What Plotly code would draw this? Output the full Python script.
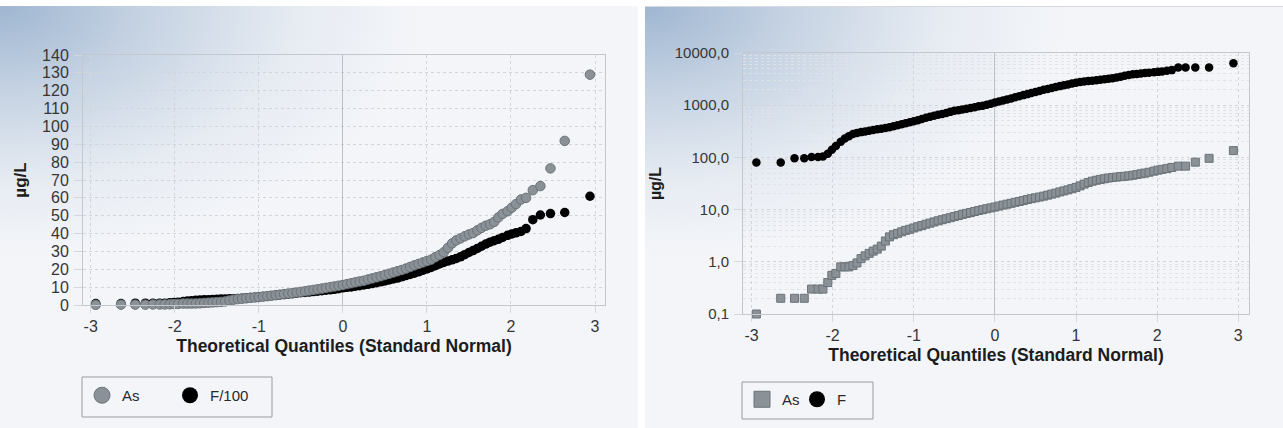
import base64
import plotly.graph_objects as go

# ---------------- data ----------------
quantiles = [-2.94, -2.64, -2.47, -2.35, -2.26, -2.18, -2.12, -2.06, -2.01, -1.96,
             -1.90, -1.85, -1.80, -1.75, -1.70, -1.65, -1.60, -1.55, -1.50, -1.45,
             -1.40, -1.35, -1.30, -1.25, -1.20, -1.15, -1.10, -1.05, -1.00, -0.95,
             -0.90, -0.85, -0.80, -0.75, -0.70, -0.65, -0.60, -0.55, -0.50, -0.45,
             -0.40, -0.35, -0.30, -0.25, -0.20, -0.15, -0.10, -0.05, 0.00, 0.05,
             0.10, 0.15, 0.20, 0.25, 0.30, 0.35, 0.40, 0.45, 0.50, 0.55,
             0.60, 0.65, 0.70, 0.75, 0.80, 0.85, 0.90, 0.95, 1.00, 1.05,
             1.10, 1.15, 1.20, 1.25, 1.30, 1.35, 1.40, 1.45, 1.50, 1.55,
             1.60, 1.65, 1.70, 1.75, 1.80, 1.85, 1.90,
             1.96, 2.01, 2.06, 2.12, 2.18, 2.26, 2.35, 2.47, 2.64, 2.94]

# left panel (linear): As and F/100
left_as = [0.1, 0.2, 0.2, 0.2, 0.3, 0.3, 0.3, 0.4, 0.55, 0.6,
           0.8, 0.8, 0.8, 0.85, 0.95, 1.15, 1.3, 1.45, 1.6, 1.75,
           2.0, 2.5, 3.0, 3.3, 3.5, 3.75, 4.0, 4.2, 4.45, 4.7,
           4.95, 5.25, 5.5, 5.8, 6.1, 6.4, 6.7, 7.0, 7.35, 7.7,
           8.1, 8.45, 8.8, 9.2, 9.6, 10.0, 10.4, 10.8, 11.2, 11.7,
           12.2, 12.7, 13.2, 13.6, 14.3, 14.9, 15.5, 16.1, 16.8, 17.5,
           18.2, 18.9, 19.6, 20.4, 21.3, 22.2, 23.0, 23.8, 24.6, 25.4,
           26.8, 28.0, 29.5, 32.0, 34.5, 36.2, 37.3, 38.5, 39.5, 40.3,
           41.8, 43.2, 44.4, 45.2, 46.5, 49.0, 51.0,
           52.5, 54.5, 56.5, 59.1, 60.0, 64.3, 66.6, 76.5, 91.9, 129.0]

left_f100 = [0.8, 0.8, 1.0, 1.0, 1.0, 1.0, 1.05, 1.2, 1.4, 1.6,
             1.9, 2.2, 2.4, 2.6, 2.8, 2.9, 3.0, 3.1, 3.2, 3.3,
             3.35, 3.45, 3.55, 3.7, 3.85, 4.0, 4.15, 4.3, 4.5, 4.7,
             4.95, 5.2, 5.4, 5.6, 5.85, 6.05, 6.3, 6.6, 6.9, 7.05,
             7.25, 7.5, 7.7, 8.0, 8.3, 8.5, 8.8, 9.1, 9.6, 9.9,
             10.1, 10.5, 10.8, 11.2, 11.6, 12.0, 12.5, 13.0, 13.5, 14.0,
             14.6, 15.1, 15.8, 16.5, 17.1, 17.8, 18.6, 19.4, 20.2, 21.0,
             22.0, 23.0, 23.8, 24.6, 25.3, 26.1, 27.0, 28.2, 29.4, 30.5,
             31.7, 32.9, 34.1, 35.2, 36.0, 36.8, 37.8,
             39.0, 39.8, 40.4, 41.2, 42.8, 47.8, 50.4, 51.2, 51.8, 60.9]

# right panel (log): As and F
right_as = [0.1, 0.2, 0.2, 0.2, 0.3, 0.3, 0.3, 0.4, 0.55, 0.6,
            0.8, 0.8, 0.8, 0.85, 0.95, 1.15, 1.3, 1.45, 1.6, 1.75,
            2.0, 2.5, 3.0, 3.3, 3.5, 3.75, 4.0, 4.2, 4.45, 4.7,
            4.95, 5.25, 5.5, 5.8, 6.1, 6.4, 6.7, 7.0, 7.35, 7.7,
            8.1, 8.45, 8.8, 9.2, 9.6, 10.0, 10.4, 10.8, 11.2, 11.7,
            12.2, 12.7, 13.2, 13.8, 14.3, 14.9, 15.6, 16.2, 16.8, 17.4,
            18.1, 18.9, 19.8, 20.7, 21.8, 22.8, 23.9, 25.2, 26.6, 28.5,
            30.8, 33.0, 35.0, 36.5, 37.8, 39.0, 40.3, 41.2, 42.0, 42.8,
            43.5, 44.3, 45.5, 47.0, 48.5, 50.0, 52.0,
            54.5, 57.0, 59.0, 61.0, 64.0, 68.0, 68.0, 81.0, 96.0, 135.0]

right_f = [80, 80, 96, 96, 102, 102, 104, 118, 140, 165,
           200, 230, 255, 280, 295, 305, 315, 325, 335, 345,
           355, 365, 377, 395, 415, 430, 450, 470, 495, 515,
           545, 575, 600, 625, 655, 680, 710, 745, 780, 800,
           825, 855, 880, 915, 950, 980, 1020, 1070, 1130, 1180,
           1230, 1290, 1350, 1420, 1490, 1560, 1630, 1710, 1790, 1870,
           1970, 2050, 2140, 2230, 2320, 2410, 2500, 2600, 2700, 2780,
           2850, 2900, 2950, 3000, 3060, 3130, 3220, 3300, 3400, 3500,
           3650, 3800, 3900, 3980, 4060, 4140, 4200,
           4280, 4350, 4420, 4550, 4700, 5300, 5300, 5300, 5300, 6350]

x_ticks = [-3, -2, -1, 0, 1, 2, 3]
x_ticktext = ["-3", "-2", "-1", "0", "1", "2", "3"]
left_y_ticks = [0, 10, 20, 30, 40, 50, 60, 70, 80, 90, 100, 110, 120, 130, 140]
right_y_ticks = [0.1, 1, 10, 100, 1000, 10000]
right_y_ticktext = ["0,1", "1,0", "10,0", "100,0", "1000,0", "10000,0"]

# ---------------- styling ----------------
W, H = 1283, 428
FONT = "Liberation Sans"
GRAY = "#8a9197"
GRAY_LINE = "#6b7378"
GRID = "#d2d5d9"


def px(x):
    return x / W


def py(y):
    return 1 - y / H


# background (panels with soft blue corner gradient)
grad_stops = ('<stop offset="0" stop-color="#9fb6d1"/>'
              '<stop offset="0.35" stop-color="#c6d3e3"/>'
              '<stop offset="0.7" stop-color="#e6ebf2"/>'
              '<stop offset="1" stop-color="#f3f5f9"/>')
svg = f'''<svg xmlns="http://www.w3.org/2000/svg" width="{W}" height="{H}" viewBox="0 0 {W} {H}" preserveAspectRatio="none">
<defs>
<radialGradient id="g1" cx="0" cy="0" r="1" gradientUnits="userSpaceOnUse" gradientTransform="translate(0,6) scale(420,250)">{grad_stops}</radialGradient>
<radialGradient id="g2" cx="0" cy="0" r="1" gradientUnits="userSpaceOnUse" gradientTransform="translate(645,6) scale(420,250)">{grad_stops}</radialGradient>
</defs>
<rect x="0" y="0" width="{W}" height="{H}" fill="#ffffff"/>
<rect x="0" y="6" width="638" height="{H-6}" fill="url(#g1)"/>
<rect x="645" y="6" width="{W-645}" height="{H-6}" fill="url(#g2)"/>
<line x1="645" y1="6.5" x2="{W}" y2="6.5" stroke="#d6dae0" stroke-width="1"/>
</svg>'''
bg_uri = "data:image/svg+xml;base64," + base64.b64encode(svg.encode()).decode()

fig = go.Figure()

# ---- left panel traces (F first so As draws on top) ----
fig.add_trace(go.Scatter(x=quantiles, y=left_f100, mode="markers", xaxis="x", yaxis="y",
                         marker=dict(color="#000000", size=9.5, line=dict(width=0)),
                         cliponaxis=False, showlegend=False, hoverinfo="skip"))
fig.add_trace(go.Scatter(x=quantiles, y=left_as, mode="markers", xaxis="x", yaxis="y",
                         marker=dict(color=GRAY, size=9.5, line=dict(color=GRAY_LINE, width=1)),
                         cliponaxis=False, showlegend=False, hoverinfo="skip"))
# ---- right panel traces ----
fig.add_trace(go.Scatter(x=quantiles, y=right_as, mode="markers", xaxis="x2", yaxis="y2",
                         marker=dict(color=GRAY, size=8, symbol="square",
                                     line=dict(color=GRAY_LINE, width=1)),
                         cliponaxis=False, showlegend=False, hoverinfo="skip"))
fig.add_trace(go.Scatter(x=quantiles, y=right_f, mode="markers", xaxis="x2", yaxis="y2",
                         marker=dict(color="#000000", size=8.5, line=dict(width=0)),
                         cliponaxis=False, showlegend=False, hoverinfo="skip"))

# ---- legend entries ----
fig.add_trace(go.Scatter(x=[None], y=[None], mode="markers", name="As", legend="legend",
                         xaxis="x", yaxis="y",
                         marker=dict(color=GRAY, size=16, line=dict(color=GRAY_LINE, width=1))))
fig.add_trace(go.Scatter(x=[None], y=[None], mode="markers", name="F/100", legend="legend",
                         xaxis="x", yaxis="y",
                         marker=dict(color="#000000", size=16, line=dict(width=0))))
fig.add_trace(go.Scatter(x=[None], y=[None], mode="markers", name="As", legend="legend2",
                         xaxis="x2", yaxis="y2",
                         marker=dict(color=GRAY, size=16, symbol="square",
                                     line=dict(color=GRAY_LINE, width=1))))
fig.add_trace(go.Scatter(x=[None], y=[None], mode="markers", name="F", legend="legend2",
                         xaxis="x2", yaxis="y2",
                         marker=dict(color="#000000", size=16, line=dict(width=0))))

tickfont = dict(family=FONT, size=16, color="#363636")
titlefont = dict(family=FONT, size=17.5, color="#1c1c1c", weight="bold")

common_x = dict(tickmode="array", tickvals=x_ticks, ticktext=x_ticktext, tickfont=tickfont,
                showgrid=True, gridcolor=GRID, griddash="dot", gridwidth=1,
                zeroline=True, zerolinecolor="#bdc1c6", zerolinewidth=1,
                showline=True, mirror=True, linecolor="#c3c8ce", linewidth=1,
                ticks="outside", ticklen=7, tickcolor="#d3d6da",
                automargin=False, fixedrange=True)

fig.update_layout(
    width=W, height=H, autosize=False,
    margin=dict(l=0, r=0, t=0, b=0, pad=0),
    paper_bgcolor="#ffffff",
    plot_bgcolor="rgba(245,247,251,0.7)",
    font=dict(family=FONT),
    images=[dict(source=bg_uri, xref="paper", yref="paper", x=0, y=1, sizex=1, sizey=1,
                 xanchor="left", yanchor="top", sizing="stretch", layer="below")],
    xaxis=dict(domain=[px(83), px(605)], range=[-3.092, 3.119], anchor="y",
               title=dict(text="Theoretical Quantiles (Standard Normal)", font=titlefont, standoff=5),
               **common_x),
    yaxis=dict(domain=[py(305), py(55)], range=[0, 140], anchor="x",
               tickmode="array", tickvals=left_y_ticks, tickfont=tickfont,
               showgrid=True, gridcolor=GRID, griddash="dot", gridwidth=1, zeroline=False,
               showline=True, mirror=True, linecolor="#c3c8ce", linewidth=1,
               ticks="outside", ticklen=8, tickcolor="#d3d6da", ticklabelstandoff=2,
               title=dict(text="µg/L", font=dict(family=FONT, size=17, color="#1c1c1c", weight="bold"),
                          standoff=11),
               automargin=False, fixedrange=True),
    xaxis2=dict(domain=[px(743), px(1249)], range=[-3.105, 3.132], anchor="y2",
                title=dict(text="Theoretical Quantiles (Standard Normal)", font=titlefont, standoff=5),
                **common_x),
    yaxis2=dict(domain=[py(314), py(53)], type="log", range=[-1, 4], anchor="x2",
                tickmode="array", tickvals=right_y_ticks, ticktext=right_y_ticktext,
                tickfont=dict(family=FONT, size=15, color="#363636"),
                showgrid=True, gridcolor=GRID, griddash="dot", gridwidth=1,
                minor=dict(showgrid=True, gridcolor="#e0e2e5", griddash="dot", ticks="", dtick="D1"),
                showline=True, mirror=True, linecolor="#c3c8ce", linewidth=1,
                ticks="outside", ticklen=8, tickcolor="#d3d6da", ticklabelstandoff=2,
                title=dict(text="µg/L", font=dict(family=FONT, size=16, color="#1c1c1c", weight="bold"),
                           standoff=9),
                automargin=False, fixedrange=True),
    legend=dict(orientation="h", x=px(82), y=py(379), xanchor="left", yanchor="top",
                bgcolor="rgba(0,0,0,0)", borderwidth=0,
                font=dict(family=FONT, size=15, color="#2a2a2a"),
                entrywidth=43, entrywidthmode="pixels", itemclick=False, itemdoubleclick=False),
    legend2=dict(orientation="h", x=px(742), y=py(383), xanchor="left", yanchor="top",
                 bgcolor="rgba(0,0,0,0)", borderwidth=0,
                 font=dict(family=FONT, size=15, color="#2a2a2a"),
                 entrywidth=10, entrywidthmode="pixels", itemclick=False, itemdoubleclick=False),
    shapes=[
        dict(type="rect", xref="paper", yref="paper", x0=px(82), x1=px(272), y0=py(417), y1=py(377),
             line=dict(color="#9b9b9b", width=1), fillcolor="rgba(0,0,0,0)", layer="above"),
        dict(type="rect", xref="paper", yref="paper", x0=px(742), x1=px(873), y0=py(419), y1=py(382),
             line=dict(color="#9b9b9b", width=1), fillcolor="rgba(0,0,0,0)", layer="above"),
    ],
)

fig.write_html("out.html")
